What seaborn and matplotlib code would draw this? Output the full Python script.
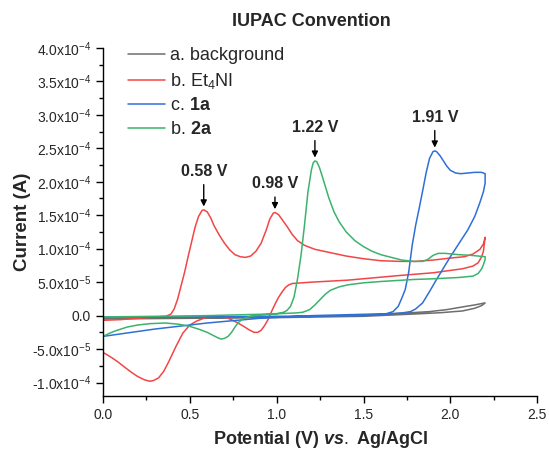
#!/bin/env python

import numpy as np
import pandas as pd
import seaborn as sns
import matplotlib
matplotlib.use('Agg')
import matplotlib.pyplot as plt
from matplotlib.ticker import MultipleLocator, FuncFormatter

# cyclic voltammograms, current in units of 1e-5 A
# (forward sweep 0 -> 2.2 V, then back to 0 V)
bg_v = [0.0, 0.5, 1.0, 1.4, 1.6, 1.75, 1.88, 1.98, 2.07, 2.14, 2.2,
        2.18, 2.14, 2.07, 1.95, 1.8, 1.5, 1.0, 0.5, 0.0]
bg_i = [-0.4, -0.3, -0.2, 0.0, 0.2, 0.4, 0.6, 0.9, 1.3, 1.6, 1.9,
        1.5, 1.1, 0.7, 0.45, 0.25, -0.1, -0.3, -0.4, -0.5]

et4ni_v = [0.0, 0.1, 0.2, 0.3, 0.36, 0.39, 0.41, 0.43, 0.45, 0.47, 0.49, 0.51,
           0.53, 0.55, 0.57, 0.58, 0.6, 0.62, 0.64, 0.67, 0.7, 0.73, 0.76, 0.79,
           0.82, 0.85, 0.88, 0.91, 0.94, 0.96, 0.98, 0.99, 1.01, 1.03, 1.06,
           1.09, 1.12, 1.16, 1.22, 1.31, 1.4, 1.5, 1.6, 1.71, 1.8, 1.9, 2.0,
           2.08, 2.13, 2.17, 2.19, 2.2,
           2.19, 2.18, 2.16, 2.13, 2.07, 1.9, 1.71, 1.41, 1.2, 1.09, 1.07, 1.05,
           1.03, 1.01, 0.99, 0.97, 0.95, 0.93, 0.91, 0.89, 0.87, 0.84, 0.81,
           0.77, 0.73, 0.69, 0.66, 0.62, 0.58, 0.54, 0.5, 0.46, 0.42, 0.38,
           0.35, 0.32, 0.29, 0.27, 0.24, 0.2, 0.16, 0.12, 0.08, 0.04, 0.0]
et4ni_i = [-0.7, -0.6, -0.4, -0.2, -0.1, 0.2, 1.0, 2.5, 4.5, 6.5, 8.8, 11.0,
           13.2, 14.8, 15.7, 15.8, 15.5, 14.6, 13.4, 12.0, 10.8, 9.8, 9.1, 8.8,
           8.7, 8.9, 9.6, 10.8, 12.8, 14.4, 15.3, 15.4, 15.1, 14.4, 13.3,
           12.1, 11.2, 10.5, 9.9, 9.4, 8.9, 8.5, 8.2, 8.1, 8.1, 8.3, 8.6,
           8.8, 9.2, 9.9, 10.7, 11.7,
           9.6, 8.8, 7.9, 7.4, 7.0, 6.4, 6.0, 5.3, 5.0, 4.8, 4.6, 4.2,
           3.5, 2.7, 1.7, 0.6, -0.6, -1.5, -2.2, -2.5, -2.5, -2.1, -1.6,
           -1.0, -0.5, -0.1, 0.0, -0.1, -0.4, -0.8, -1.4, -2.6, -4.6, -6.8,
           -8.3, -9.3, -9.7, -9.8, -9.6, -9.1, -8.4, -7.6, -6.8, -6.1, -5.5]

c1a_v = [0.0, 0.5, 1.0, 1.5, 1.62, 1.67, 1.7, 1.72, 1.74, 1.76, 1.78, 1.8,
         1.82, 1.84, 1.86, 1.88, 1.9, 1.91, 1.92, 1.94, 1.96, 1.98, 2.0, 2.03,
         2.06, 2.1, 2.14, 2.18, 2.2,
         2.2, 2.19, 2.17, 2.14, 2.1, 2.05, 2.0, 1.96, 1.92, 1.88, 1.84, 1.8,
         1.77, 1.72, 1.67, 1.5, 1.2, 0.9, 0.6, 0.3, 0.0]
c1a_i = [-0.2, -0.2, -0.1, 0.0, 0.2, 0.6, 1.4, 2.6, 3.9, 6.5, 10.5, 13.5,
         16.0, 18.6, 21.3, 23.5, 24.5, 24.6, 24.5, 23.9, 23.1, 22.3, 21.7, 21.3,
         21.2, 21.3, 21.4, 21.4, 21.2,
         19.8, 18.5, 16.9, 14.8, 12.8, 10.8, 8.8, 7.1, 5.4, 3.6, 1.9, 1.0,
         0.6, 0.4, 0.3, 0.2, 0.0, -0.4, -1.1, -2.0, -3.1]

c2a_v = [0.0, 0.3, 0.6, 0.9, 1.0, 1.04, 1.06, 1.08, 1.1, 1.12, 1.14, 1.16,
         1.18, 1.2, 1.21, 1.22, 1.23, 1.245, 1.26, 1.28, 1.3, 1.33, 1.36, 1.4,
         1.45, 1.5, 1.55, 1.6, 1.66, 1.72, 1.79, 1.84, 1.87, 1.9, 1.93, 1.97,
         2.05, 2.12, 2.2,
         2.2, 2.19, 2.18, 2.16, 2.13, 2.05, 1.9, 1.79, 1.6, 1.5, 1.41, 1.36,
         1.31, 1.28, 1.25, 1.22, 1.19, 1.15, 1.11, 1.02, 0.92, 0.85, 0.81,
         0.78, 0.76, 0.74, 0.72, 0.7, 0.68, 0.66, 0.63, 0.6, 0.56, 0.5, 0.44,
         0.36, 0.27, 0.2, 0.14, 0.08, 0.04, 0.0]
c2a_i = [-0.2, -0.1, 0.0, 0.2, 0.3, 0.5, 0.8, 1.4, 2.8, 5.5, 9.0, 13.5,
         18.5, 21.8, 22.8, 23.1, 23.0, 22.2, 21.0, 19.3, 17.6, 15.5, 14.0, 12.5,
         11.2, 10.3, 9.6, 9.1, 8.7, 8.3, 8.1, 8.1, 8.4, 9.0, 9.3, 9.3,
         9.1, 9.0, 8.8,
         8.4, 7.6, 7.0, 6.3, 5.9, 5.7, 5.5, 5.4, 5.1, 4.9, 4.6, 4.3,
         3.8, 3.2, 2.4, 1.6, 0.9, 0.5, 0.4, 0.3, 0.1, -0.1, -0.4,
         -1.0, -1.7, -2.5, -3.1, -3.4, -3.5, -3.3, -2.9, -2.5, -2.1, -1.6, -1.3,
         -1.1, -1.2, -1.4, -1.7, -2.2, -2.6, -3.1]

labels = ['a. background', r'b. Et$_4$NI', r'c. $\mathbf{1a}$', r'b. $\mathbf{2a}$']
colors = ['#6e6e6e', '#f24646', '#2f6fd8', '#3bb36c']

# peak annotations: potential (V), current (1e-5 A), label, text offset (pt)
peak_v = [0.58, 0.99, 1.22, 1.91]
peak_i = [15.8, 15.4, 23.1, 24.6]
peak_txt = ['0.58 V', '0.98 V', '1.22 V', '1.91 V']
peak_off = [25.5, 18.5, 22, 22]


def sci_fmt(val, pos):
    if abs(val) < 1e-12:
        return '0.0'
    exp = int(np.floor(np.log10(abs(val))))
    man = val / 10**exp
    return r'%.1fx10$^{%d}$' % (man, exp)


def main():
    sns.set_style('white')
    plt.rcParams['font.family'] = ['Liberation Sans', 'DejaVu Sans']
    plt.rcParams['mathtext.fontset'] = 'custom'
    plt.rcParams['mathtext.rm'] = 'Liberation Sans'
    plt.rcParams['mathtext.bf'] = 'Liberation Sans:bold'
    plt.rcParams['mathtext.it'] = 'Liberation Sans:bold:italic'

    frames = []
    for lab, v, i in zip(labels, [bg_v, et4ni_v, c1a_v, c2a_v],
                         [bg_i, et4ni_i, c1a_i, c2a_i]):
        frames.append(pd.DataFrame({'E': v, 'I': np.array(i) * 1e-5,
                                    'trace': lab}))
    df = pd.concat(frames, ignore_index=True)

    fig = plt.figure(figsize=(5.49, 4.51), dpi=100)
    ax = fig.add_axes([0.1876, 0.122, 0.791, 0.772])

    sns.lineplot(data=df, x='E', y='I', hue='trace', hue_order=labels,
                 palette=colors, sort=False, estimator=None, units='trace',
                 lw=1.1, ax=ax, legend=False)

    handles = [plt.Line2D([], [], color=c, lw=1.1) for c in colors]
    ax.legend(handles, labels, loc='upper left', bbox_to_anchor=(0.04, 1.022),
              frameon=False, fontsize=13, handlelength=2.05, handletextpad=0.3,
              labelspacing=0.36, borderaxespad=0)

    for v, i, t, off in zip(peak_v, peak_i, peak_txt, peak_off):
        ax.annotate(t, xy=(v, i * 1e-5 + 0.05e-4), xytext=(0, off),
                    textcoords='offset points', ha='center', va='center',
                    fontsize=11.5, fontweight='bold',
                    arrowprops=dict(arrowstyle='-|>', color='black', lw=1.0,
                                    mutation_scale=9, shrinkA=2, shrinkB=0))

    ax.set_xlim(0, 2.5)
    ax.set_ylim(-1.2e-4, 4.0e-4)
    ax.xaxis.set_major_locator(MultipleLocator(0.5))
    ax.xaxis.set_minor_locator(MultipleLocator(0.25))
    ax.yaxis.set_major_locator(MultipleLocator(5e-5))
    ax.yaxis.set_minor_locator(MultipleLocator(2.5e-5))
    ax.yaxis.set_major_formatter(FuncFormatter(sci_fmt))
    ax.xaxis.set_major_formatter(FuncFormatter(lambda x, p: '%.1f' % x))
    ax.tick_params(which='major', direction='out', length=5, width=1,
                   labelsize=10, bottom=True, left=True, color='black')
    ax.tick_params(which='minor', direction='out', length=3, width=1,
                   bottom=True, left=True, color='black')
    for s in ['top', 'right']:
        ax.spines[s].set_visible(False)
    for s in ['left', 'bottom']:
        ax.spines[s].set_color('black')
        ax.spines[s].set_linewidth(1.0)

    ax.set_xlabel(r'Potential (V) $\mathit{vs.}$ Ag/AgCl', fontsize=13,
                  fontweight='bold', labelpad=5)
    ax.set_ylabel('Current (A)', fontsize=13.5, fontweight='bold', labelpad=1)
    ax.set_title('IUPAC Convention', fontsize=13, fontweight='bold', pad=16,
                 x=0.48)

    fig.savefig('out.png', dpi=100)


if __name__ == '__main__':
    main()
